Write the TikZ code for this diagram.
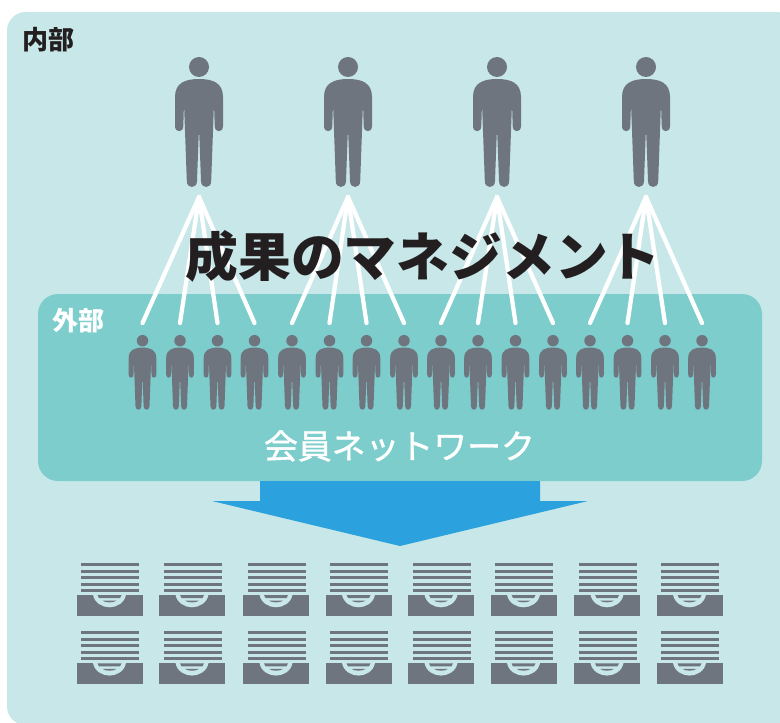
\documentclass[tikz,border=0pt]{standalone}
\usepackage{fontspec}
\setmainfont{Noto Sans CJK JP}
\newfontfamily\memberfont[FakeBold=1.2]{Noto Sans CJK JP}
\usetikzlibrary{positioning, calc}
\definecolor{innerbg}{HTML}{C8E7E9}
\definecolor{outerbg}{HTML}{7DCDCD}
\definecolor{figgray}{HTML}{6F757E}
\definecolor{arrowblue}{HTML}{2BA2DE}
\definecolor{titleink}{HTML}{231F20}
\tikzset{
	fanline/.style = {white, line width = 3.2pt, line cap = round},
	arealabel/.style = {inner sep = 0pt, font = \bfseries\fontsize{19.5}{20}\selectfont},
	person/.pic = {
		\fill[figgray] (0,0) circle (10);
		\fill[figgray] (-24,30) .. controls (-24,16) and (-14,12) .. (0,12)
			.. controls (14,12) and (24,16) .. (24,30) -- (24,59)
			.. controls (24,66) and (15.7,66) .. (15.7,59) -- (15,36)
			-- (12.2,114) .. controls (12.2,122) and (2,122) .. (2,114) -- (.3,68) -- (-.3,68)
			-- (-2,114) .. controls (-2,122) and (-12.2,122) .. (-12.2,114)
			-- (-15,36) -- (-15.7,59) .. controls (-15.7,66) and (-24,66) .. (-24,59) -- cycle;
	},
	tray/.pic = {
		\foreach \y in {-32,-25.5,-19,-12.5,-6}
			\fill[figgray] (4.5,\y) rectangle (62.5,\y+3);
		\fill[figgray] (0,0) rectangle (66.3,20.7);
		\fill[innerbg] (16.5,-.3) .. controls (18,8) and (26,12.3) .. (33,12.3)
			.. controls (40,12.3) and (48,8) .. (49.5,-.3) -- cycle;
		\fill[figgray] (21,0) -- (45,0) -- (43.5,3) -- (22.5,3) -- cycle;
		\fill[figgray] (26,5.5) -- (40,5.5) .. controls (38,8) and (28,8) .. (26,5.5) -- cycle;
	},
}
\begin{document}
\begin{tikzpicture}[x = .75pt, y = -.75pt]
	\useasboundingbox (0,0) rectangle (780,723);
	\clip (0,0) rectangle (780,723);
	\fill[innerbg, rounded corners = 14pt] (7,12) rectangle (795,725);
	\fill[outerbg, rounded corners = 15pt] (38,294) rectangle (762,481);

	% arrow
	\fill[arrowblue] (260,481) -- (540,481) -- (540,501) -- (588,501) -- (400,546)
		-- (212,501) -- (260,501) -- cycle;

	% upper row
	\foreach \n/\x in {1/199,2/348,3/497,4/646} {
		\pic at (\x,67) {person};
		\coordinate (apex\n) at (\x,197);
	}

	% lower row
	\foreach \n/\x in {1/142.5,2/180,3/217.5,4/254.5,5/292,6/329.5,7/366.5,8/404,
			9/441,10/478,11/515.5,12/553,13/590,14/627.5,15/665,16/702} {
		\pic[scale = .575] at (\x,340.7) {person};
		\coordinate (foot\n) at (\x,323);
	}

	% lines
	\foreach \a/\b/\c/\d/\e in {1/1/2/3/4,2/5/6/7/8,3/9/10/11/12,4/13/14/15/16} {
		\draw[fanline] (apex\a) -- (foot\b);
		\draw[fanline] (apex\a) -- (foot\c);
		\draw[fanline] (apex\a) -- (foot\d);
		\draw[fanline] (apex\a) -- (foot\e);
	}

	% trays
	\foreach \x in {76.5,159,243,325.5,408,490.5,574,656.5} {
		\pic at (\x,595) {tray};
		\pic at (\x,663.3) {tray};
	}

	\node[arealabel, text = titleink, anchor = west] (innerlabel) at (22,40) {内部};
	\node[arealabel, text = white, anchor = west] (outerlabel) at (52,321) {外部};
	\node[inner sep = 0pt, text = white, font = \memberfont\fontsize{25.4}{26}\selectfont] (memberlabel) at (399.5,446) {会員ネットワーク};
	\node[inner sep = 0pt, text = titleink, font = \bfseries\fontsize{39.6}{40}\selectfont] (title) at (423,256) {成果のマネジメント};
\end{tikzpicture}
\end{document}
